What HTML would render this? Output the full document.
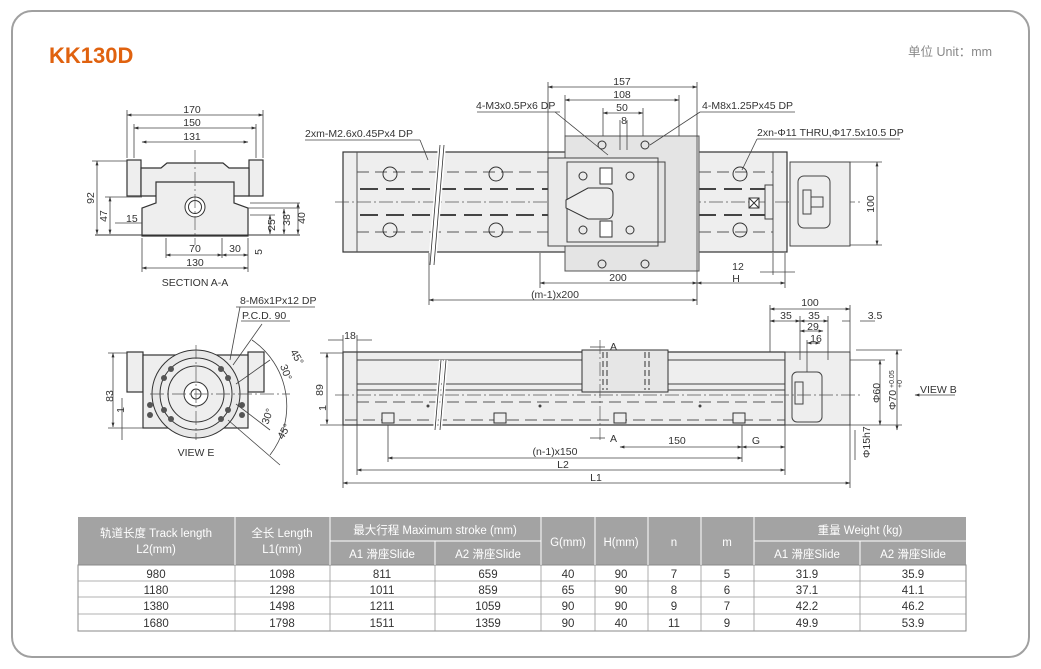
<!DOCTYPE html>
<html><head><meta charset="utf-8"><style>
html,body{margin:0;padding:0;background:#fff;width:1041px;height:669px;overflow:hidden}
svg{display:block}
text{font-family:"Liberation Sans Narrow","Liberation Sans","Noto Sans CJK SC",sans-serif;fill:#333;font-size:10.5px}
.tb text{font-size:11.5px}
.d{stroke:#444;stroke-width:.8;fill:none}
.o{stroke:#333;stroke-width:1.2;fill:#eeeeee}
.h{stroke:#555;stroke-width:1;fill:none;stroke-dasharray:12 6}
.c{stroke:#555;stroke-width:.7;fill:none;stroke-dasharray:14 3 2 3}
</style></head><body>
<svg width="1041" height="669" viewBox="0 0 1041 669">
<defs><marker id="a" markerWidth="6" markerHeight="6" refX="5.5" refY="3" orient="auto-start-reverse"><path d="M0,1.2L6,3L0,4.8z" fill="#333"/></marker></defs>
<rect x="12" y="11" width="1017" height="646" rx="20" fill="none" stroke="#a0a0a0" stroke-width="2"/>
<text x="49" y="63" style="fill:#e0620f;font-family:'Liberation Sans',sans-serif;font-weight:bold;font-size:22px">KK130D</text>
<text x="908" y="56" style="fill:#888;font-size:12.5px">单位 Unit：mm</text>

<!-- SECTION A-A -->
<g>
<rect class="o" x="127" y="160" width="14" height="36"/><rect class="o" x="249" y="160" width="14" height="36"/>
<path class="o" d="M141,196V168h20l6,-5h56l6,5h20v28z"/>
<path class="o" d="M142,236V208l14,-5V182h78v21l14,5v28z"/>
<circle cx="195" cy="207" r="10" fill="#fff" stroke="#333"/><circle cx="195" cy="207" r="6.5" fill="none" stroke="#333"/>
<line class="c" x1="195" y1="150" x2="195" y2="245"/>
<line x1="95" y1="235" x2="300" y2="235" stroke="#333"/>
<g class="d" marker-start="url(#a)" marker-end="url(#a)">
<line x1="127" y1="115" x2="263" y2="115"/><line x1="134" y1="128" x2="256" y2="128"/><line x1="142" y1="142" x2="248" y2="142"/>
<line x1="97" y1="161" x2="97" y2="234"/><line x1="110" y1="197" x2="110" y2="234"/>
<line x1="270" y1="215" x2="270" y2="234"/><line x1="284" y1="209" x2="284" y2="234"/><line x1="298" y1="203" x2="298" y2="234"/>
<line x1="166" y1="255" x2="222" y2="255"/><line x1="222" y1="255" x2="248" y2="255"/><line x1="142" y1="268" x2="248" y2="268"/>
</g>
<g class="d"><line x1="127" y1="110" x2="127" y2="158"/><line x1="263" y1="110" x2="263" y2="158"/><line x1="134" y1="124" x2="134" y2="158"/><line x1="256" y1="124" x2="256" y2="158"/>
<line x1="142" y1="238" x2="142" y2="272"/><line x1="248" y1="238" x2="248" y2="272"/><line x1="166" y1="238" x2="166" y2="258"/><line x1="222" y1="238" x2="222" y2="258"/>
<line x1="92" y1="161" x2="127" y2="161"/><line x1="105" y1="197" x2="142" y2="197"/><line x1="115" y1="223" x2="142" y2="223"/>
<line x1="248" y1="208" x2="300" y2="208"/><line x1="250" y1="203" x2="300" y2="203"/><line x1="250" y1="215" x2="275" y2="215"/></g>
<text x="192" y="113" text-anchor="middle">170</text><text x="192" y="126" text-anchor="middle">150</text><text x="192" y="140" text-anchor="middle">131</text>
<text x="126" y="222">15</text>
<text x="195" y="252" text-anchor="middle">70</text><text x="235" y="252" text-anchor="middle">30</text><text x="195" y="266" text-anchor="middle">130</text>
<text transform="translate(94,198) rotate(-90)" text-anchor="middle">92</text>
<text transform="translate(107,216) rotate(-90)" text-anchor="middle">47</text>
<text transform="translate(275,225) rotate(-90)" text-anchor="middle">25</text>
<text transform="translate(290,220) rotate(-90)" text-anchor="middle">38</text>
<text transform="translate(305,218) rotate(-90)" text-anchor="middle">40</text>
<text transform="translate(262,252) rotate(-90)" text-anchor="middle">5</text>
<text x="195" y="286" text-anchor="middle">SECTION A-A</text>
</g>

<!-- VIEW E -->
<g>
<rect class="o" x="127" y="352" width="16" height="40"/><rect class="o" x="248" y="352" width="16" height="40"/>
<rect class="o" x="143" y="355" width="105" height="73"/>
<circle cx="196" cy="394" r="44" fill="#e8e8e8" stroke="#333"/><circle cx="196" cy="394" r="36" fill="#eee" stroke="#333"/><circle cx="196" cy="394" r="28" fill="none" stroke="#333"/>
<circle cx="196" cy="394" r="12" fill="#fff" stroke="#333"/><circle cx="196" cy="394" r="5" fill="none" stroke="#333"/>
<g fill="#555"><circle cx="221" cy="369" r="3"/><circle cx="171" cy="369" r="3"/><circle cx="221" cy="419" r="3"/><circle cx="171" cy="419" r="3"/><circle cx="228" cy="378" r="3"/><circle cx="164" cy="378" r="3"/><circle cx="228" cy="410" r="3"/><circle cx="164" cy="410" r="3"/>
<circle cx="150" cy="405" r="3"/><circle cx="150" cy="415" r="3"/><circle cx="242" cy="405" r="3"/><circle cx="242" cy="415" r="3"/></g>
<line class="c" x1="196" y1="345" x2="196" y2="440"/><line class="c" x1="150" y1="394" x2="290" y2="394"/>
<path class="d" d="M252,340A80,80 0 0 1 270,455"/>
<g class="d"><line x1="230" y1="360" x2="240" y2="307"/><line x1="236" y1="307" x2="315" y2="307"/><line x1="241" y1="321" x2="290" y2="321"/><line x1="228" y1="420" x2="280" y2="465"/><line x1="236" y1="384" x2="270" y2="360"/><line x1="236" y1="404" x2="270" y2="430"/><line x1="233" y1="365" x2="262" y2="324"/></g>
<text x="240" y="304">8-M6x1Px12 DP</text><text x="242" y="319">P.C.D. 90</text>
<text transform="translate(290,352) rotate(60)">45°</text><text transform="translate(280,366) rotate(70)">30°</text>
<text transform="translate(268,425) rotate(-70)">30°</text><text transform="translate(283,440) rotate(-60)">45°</text>
<g class="d" marker-start="url(#a)" marker-end="url(#a)"><line x1="113" y1="353" x2="113" y2="427"/></g>
<g class="d"><line x1="108" y1="353" x2="127" y2="353"/><line x1="108" y1="428" x2="143" y2="428"/><line x1="122" y1="398" x2="122" y2="440"/></g>
<text transform="translate(113,396) rotate(-90)" text-anchor="middle">83</text>
<text transform="translate(124,410) rotate(-90)" text-anchor="middle">1</text>
<text x="196" y="456" text-anchor="middle">VIEW E</text>
</g>

<!-- TOP VIEW -->
<g>
<rect class="o" x="343" y="152" width="444" height="100"/>
<line x1="357" y1="152" x2="357" y2="252" stroke="#555"/><line x1="773" y1="152" x2="773" y2="252" stroke="#555"/>
<line class="h" x1="357" y1="172" x2="773" y2="172"/><line class="h" x1="357" y1="232" x2="773" y2="232"/>
<line x1="360" y1="189" x2="770" y2="189" stroke="#444" stroke-width="2" stroke-dasharray="18 8"/><line x1="360" y1="215" x2="770" y2="215" stroke="#444" stroke-width="2" stroke-dasharray="18 8"/>
<line class="c" x1="335" y1="202" x2="860" y2="202"/>
<rect x="565" y="136" width="134" height="135" fill="#e4e4e4" stroke="#555"/>
<rect x="548" y="158" width="110" height="88" fill="#eaeaea" stroke="#444"/>
<rect x="567" y="162" width="98" height="80" fill="none" stroke="#444"/>
<path d="M566,200l22,-12h19c4,0 6,3 6,6v18c0,4 -2,7 -6,7h-19l-22,-11z" fill="#eee" stroke="#333"/>
<rect x="600" y="168" width="12" height="16" fill="#fff" stroke="#333"/><rect x="600" y="221" width="12" height="16" fill="#fff" stroke="#333"/>
<g fill="none" stroke="#333"><circle cx="390" cy="174" r="7"/><circle cx="496" cy="174" r="7"/><circle cx="390" cy="230" r="7"/><circle cx="496" cy="230" r="7"/><circle cx="740" cy="174" r="7"/><circle cx="740" cy="230" r="7"/>
<circle cx="583" cy="176" r="4"/><circle cx="630" cy="176" r="4"/><circle cx="583" cy="230" r="4"/><circle cx="630" cy="230" r="4"/>
<circle cx="602" cy="145" r="4"/><circle cx="645" cy="145" r="4"/><circle cx="602" cy="264" r="4"/><circle cx="645" cy="264" r="4"/></g>
<rect x="790" y="162" width="60" height="84" fill="#eee" stroke="#444"/>
<rect x="798" y="176" width="32" height="52" rx="6" fill="none" stroke="#444"/>
<rect x="803" y="190" width="8" height="24" fill="#eee" stroke="#444"/><rect x="811" y="197" width="12" height="10" fill="#eee" stroke="#444"/>
<rect x="749" y="198" width="10" height="10" fill="#fff" stroke="#333"/><path d="M749,198l10,10M759,198l-10,10" stroke="#333"/>
<rect x="765" y="185" width="8" height="34" fill="#eee" stroke="#444"/>
<path d="M440,145L430,265M444,145L434,265" stroke="#fff" stroke-width="4"/><path d="M440,145L430,265M444,145L434,265" stroke="#333" stroke-width=".8"/>
<g class="d" marker-start="url(#a)" marker-end="url(#a)">
<line x1="548" y1="87" x2="697" y2="87"/><line x1="565" y1="100" x2="679" y2="100"/><line x1="603" y1="113" x2="643" y2="113"/>
<line x1="540" y1="283" x2="697" y2="283"/><line x1="429" y1="300" x2="697" y2="300"/><line x1="697" y1="283" x2="785" y2="283"/>
<line x1="877" y1="162" x2="877" y2="245"/></g>
<g class="d"><line x1="548" y1="82" x2="548" y2="158"/><line x1="697" y1="82" x2="697" y2="305"/><line x1="565" y1="95" x2="565" y2="136"/><line x1="679" y1="95" x2="679" y2="136"/>
<line x1="603" y1="108" x2="603" y2="136"/><line x1="643" y1="108" x2="643" y2="136"/><line x1="620" y1="120" x2="620" y2="150"/><line x1="627" y1="120" x2="627" y2="150"/>
<line x1="540" y1="253" x2="540" y2="288"/><line x1="429" y1="253" x2="429" y2="305"/><line x1="785" y1="253" x2="785" y2="288"/><line x1="773" y1="253" x2="773" y2="275"/>
<line x1="850" y1="162" x2="882" y2="162"/><line x1="850" y1="245" x2="882" y2="245"/>
<line x1="305" y1="140" x2="420" y2="140"/><line x1="420" y1="140" x2="428" y2="160"/>
<line x1="477" y1="112" x2="560" y2="112"/><line x1="555" y1="112" x2="608" y2="155"/>
<line x1="700" y1="112" x2="795" y2="112"/><line x1="700" y1="112" x2="650" y2="145"/>
<line x1="757" y1="139" x2="900" y2="139"/><line x1="757" y1="139" x2="742" y2="170"/>
<line x1="760" y1="272" x2="795" y2="272"/></g>
<text x="622" y="85" text-anchor="middle">157</text><text x="622" y="98" text-anchor="middle">108</text><text x="622" y="111" text-anchor="middle">50</text><text x="624" y="124" text-anchor="middle">8</text>
<text x="476" y="109">4-M3x0.5Px6 DP</text><text x="702" y="109">4-M8x1.25Px45 DP</text>
<text x="305" y="137">2xm-M2.6x0.45Px4 DP</text><text x="757" y="136">2xn-Φ11 THRU,Φ17.5x10.5 DP</text>
<text x="618" y="281" text-anchor="middle">200</text><text x="555" y="298" text-anchor="middle">(m-1)x200</text>
<text x="738" y="270" text-anchor="middle">12</text><text x="736" y="282" text-anchor="middle">H</text>
<text transform="translate(874,204) rotate(-90)" text-anchor="middle">100</text>
</g>

<!-- FRONT VIEW -->
<g>
<rect class="o" x="343" y="352" width="442" height="73"/>
<line x1="357" y1="352" x2="357" y2="425" stroke="#555"/>
<line x1="357" y1="360" x2="785" y2="360" stroke="#444"/><line x1="357" y1="384" x2="785" y2="384" stroke="#444"/><line x1="357" y1="390" x2="785" y2="390" stroke="#444"/>
<line class="h" x1="357" y1="402" x2="785" y2="402"/><line class="h" x1="345" y1="420" x2="785" y2="420"/>
<rect x="582" y="350" width="86" height="42" fill="#e6e6e6" stroke="#333"/>
<g stroke="#333" stroke-dasharray="6 3"><line x1="603" y1="352" x2="603" y2="390"/><line x1="607" y1="352" x2="607" y2="390"/><line x1="645" y1="352" x2="645" y2="390"/><line x1="649" y1="352" x2="649" y2="390"/></g>
<rect x="785" y="352" width="65" height="73" fill="#eee" stroke="#444"/>
<rect x="792" y="372" width="30" height="50" rx="5" fill="none" stroke="#444"/><rect x="795" y="382" width="8" height="22" fill="#eee" stroke="#444"/>
<g fill="#eee" stroke="#333"><rect x="382" y="413" width="12" height="10"/><rect x="494" y="413" width="12" height="10"/><rect x="614" y="413" width="12" height="10"/><rect x="733" y="413" width="12" height="10"/></g>
<g fill="#444"><circle cx="428" cy="406" r="1.5"/><circle cx="540" cy="406" r="1.5"/><circle cx="700" cy="406" r="1.5"/></g>
<path d="M441,360L435,430M446,360L440,430" stroke="#fff" stroke-width="4"/><path d="M441,360L435,430M446,360L440,430" stroke="#333" stroke-width=".8"/>
<line class="c" x1="600" y1="340" x2="600" y2="440"/><line class="c" x1="335" y1="395" x2="860" y2="395"/>
<g class="d" marker-start="url(#a)" marker-end="url(#a)">
<line x1="388" y1="458" x2="742" y2="458"/><line x1="357" y1="470" x2="785" y2="470"/><line x1="343" y1="483" x2="850" y2="483"/>
<line x1="620" y1="447" x2="742" y2="447"/><line x1="742" y1="447" x2="785" y2="447"/>
<line x1="327" y1="353" x2="327" y2="424"/>
<line x1="770" y1="309" x2="850" y2="309"/><line x1="770" y1="321" x2="800" y2="321"/><line x1="800" y1="321" x2="828" y2="321"/><line x1="800" y1="331" x2="823" y2="331"/><line x1="807" y1="343" x2="820" y2="343"/>
<line x1="880" y1="360" x2="880" y2="425"/><line x1="897" y1="350" x2="897" y2="430"/></g>
<path class="d" d="M343,340h-15M357,340h15M850,321h-8M860,321h15M955,395h-40" marker-end="url(#a)"/>
<g class="d"><line x1="343" y1="335" x2="343" y2="488"/><line x1="357" y1="335" x2="357" y2="475"/><line x1="388" y1="425" x2="388" y2="462"/><line x1="742" y1="425" x2="742" y2="462"/><line x1="785" y1="425" x2="785" y2="475"/><line x1="850" y1="305" x2="850" y2="488"/>
<line x1="770" y1="305" x2="770" y2="352"/><line x1="800" y1="316" x2="800" y2="360"/><line x1="828" y1="316" x2="828" y2="360"/><line x1="807" y1="340" x2="807" y2="372"/>
<line x1="320" y1="353" x2="343" y2="353"/><line x1="320" y1="425" x2="343" y2="425"/>
<line x1="850" y1="360" x2="885" y2="360"/><line x1="850" y1="425" x2="902" y2="425"/><line x1="856" y1="350" x2="902" y2="350"/><line x1="855" y1="430" x2="855" y2="460"/>
<line x1="590" y1="347" x2="605" y2="347"/><line x1="590" y1="438" x2="605" y2="438"/></g>
<text x="350" y="339" text-anchor="middle">18</text>
<text x="610" y="350">A</text><text x="610" y="442">A</text>
<text x="677" y="444" text-anchor="middle">150</text><text x="756" y="444" text-anchor="middle">G</text>
<text x="555" y="455" text-anchor="middle">(n-1)x150</text><text x="563" y="468" text-anchor="middle">L2</text><text x="596" y="481" text-anchor="middle">L1</text>
<text transform="translate(323,390) rotate(-90)" text-anchor="middle">89</text>
<text transform="translate(326,408) rotate(-90)" text-anchor="middle">1</text>
<text x="810" y="306" text-anchor="middle">100</text><text x="786" y="319" text-anchor="middle">35</text><text x="814" y="319" text-anchor="middle">35</text><text x="813" y="330" text-anchor="middle">29</text><text x="816" y="342" text-anchor="middle">16</text><text x="875" y="319" text-anchor="middle">3.5</text>
<text transform="translate(880,403) rotate(-90)">Φ60</text><text transform="translate(896,410) rotate(-90)">Φ70</text><text transform="translate(894,388) rotate(-90)" style="font-size:7px">+0.05</text><text transform="translate(902,388) rotate(-90)" style="font-size:7px">+0</text>
<text transform="translate(870,458) rotate(-90)">Φ15h7</text>
<text x="920" y="393">VIEW B</text>
</g>

<!-- TABLE -->
<g class="tb">
<rect x="78" y="517" width="888" height="48" fill="#a3a3a3"/>
<rect x="78" y="565" width="888" height="66" fill="#fff" stroke="#888"/>
<g stroke="#fff" stroke-width="1"><line x1="235" y1="517" x2="235" y2="565"/><line x1="330" y1="517" x2="330" y2="565"/><line x1="541" y1="517" x2="541" y2="565"/><line x1="595" y1="517" x2="595" y2="565"/><line x1="648" y1="517" x2="648" y2="565"/><line x1="701" y1="517" x2="701" y2="565"/><line x1="754" y1="517" x2="754" y2="565"/><line x1="435" y1="541" x2="435" y2="565"/><line x1="860" y1="541" x2="860" y2="565"/><line x1="330" y1="541" x2="541" y2="541"/><line x1="754" y1="541" x2="966" y2="541"/></g>
<g stroke="#999" stroke-width=".8"><line x1="78" y1="581" x2="966" y2="581"/><line x1="78" y1="597" x2="966" y2="597"/><line x1="78" y1="614" x2="966" y2="614"/>
<line x1="235" y1="565" x2="235" y2="631"/><line x1="330" y1="565" x2="330" y2="631"/><line x1="435" y1="565" x2="435" y2="631"/><line x1="541" y1="565" x2="541" y2="631"/><line x1="595" y1="565" x2="595" y2="631"/><line x1="648" y1="565" x2="648" y2="631"/><line x1="701" y1="565" x2="701" y2="631"/><line x1="754" y1="565" x2="754" y2="631"/><line x1="860" y1="565" x2="860" y2="631"/></g>
<g text-anchor="middle">
<text x="156" y="537" style="fill:#fff">轨道长度 Track length</text><text x="156" y="553" style="fill:#fff">L2(mm)</text>
<text x="282" y="537" style="fill:#fff">全长 Length</text><text x="282" y="553" style="fill:#fff">L1(mm)</text>
<text x="435" y="534" style="fill:#fff">最大行程 Maximum stroke (mm)</text>
<text x="382" y="558" style="fill:#fff">A1 滑座Slide</text><text x="488" y="558" style="fill:#fff">A2 滑座Slide</text>
<text x="568" y="546" style="fill:#fff">G(mm)</text><text x="621" y="546" style="fill:#fff">H(mm)</text><text x="674" y="546" style="fill:#fff">n</text><text x="727" y="546" style="fill:#fff">m</text>
<text x="860" y="534" style="fill:#fff">重量 Weight (kg)</text>
<text x="807" y="558" style="fill:#fff">A1 滑座Slide</text><text x="913" y="558" style="fill:#fff">A2 滑座Slide</text>
</g>
<g text-anchor="middle">
<text x="156" y="578">980</text><text x="282" y="578">1098</text><text x="382" y="578">811</text><text x="488" y="578">659</text><text x="568" y="578">40</text><text x="621" y="578">90</text><text x="674" y="578">7</text><text x="727" y="578">5</text><text x="807" y="578">31.9</text><text x="913" y="578">35.9</text>
<text x="156" y="594">1180</text><text x="282" y="594">1298</text><text x="382" y="594">1011</text><text x="488" y="594">859</text><text x="568" y="594">65</text><text x="621" y="594">90</text><text x="674" y="594">8</text><text x="727" y="594">6</text><text x="807" y="594">37.1</text><text x="913" y="594">41.1</text>
<text x="156" y="610">1380</text><text x="282" y="610">1498</text><text x="382" y="610">1211</text><text x="488" y="610">1059</text><text x="568" y="610">90</text><text x="621" y="610">90</text><text x="674" y="610">9</text><text x="727" y="610">7</text><text x="807" y="610">42.2</text><text x="913" y="610">46.2</text>
<text x="156" y="627">1680</text><text x="282" y="627">1798</text><text x="382" y="627">1511</text><text x="488" y="627">1359</text><text x="568" y="627">90</text><text x="621" y="627">40</text><text x="674" y="627">11</text><text x="727" y="627">9</text><text x="807" y="627">49.9</text><text x="913" y="627">53.9</text>
</g>
</g>
</svg>
</body></html>
